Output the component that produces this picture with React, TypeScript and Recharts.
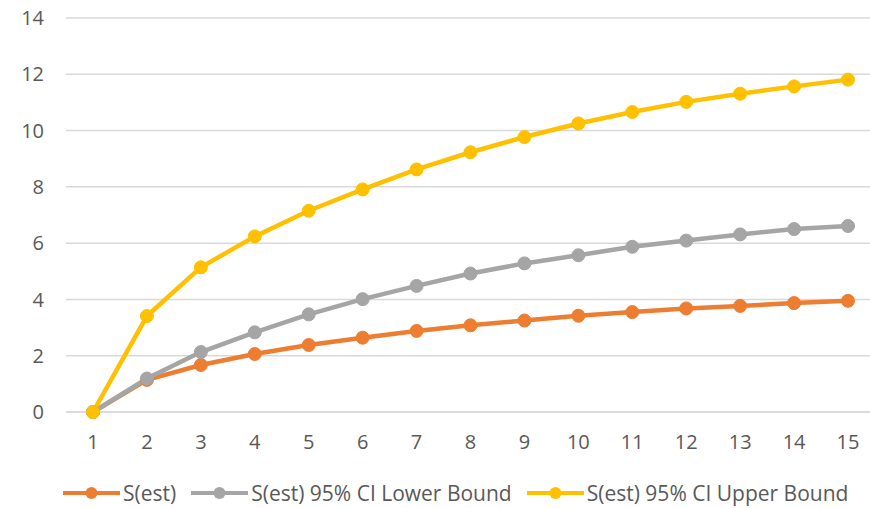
import {
  LineChart,
  Line,
  XAxis,
  YAxis,
  CartesianGrid,
  Legend,
} from "recharts";

const periods = ["1", "2", "3", "4", "5", "6", "7", "8", "9", "10", "11", "12", "13", "14", "15"];
const sEst = [0, 1.14, 1.67, 2.06, 2.38, 2.64, 2.88, 3.08, 3.25, 3.42, 3.55, 3.68, 3.77, 3.87, 3.95];
const lowerBound = [0, 1.19, 2.13, 2.83, 3.47, 4.01, 4.48, 4.92, 5.28, 5.57, 5.87, 6.09, 6.31, 6.5, 6.61];
const upperBound = [0, 3.41, 5.14, 6.24, 7.15, 7.91, 8.62, 9.23, 9.77, 10.25, 10.66, 11.02, 11.31, 11.57, 11.81];
const yTicks = [0, 2, 4, 6, 8, 10, 12, 14];

const SERIES = [
  { key: "est", name: "S(est)", color: "#ED7D31" },
  { key: "lower", name: "S(est) 95% CI Lower Bound", color: "#A5A5A5" },
  { key: "upper", name: "S(est) 95% CI Upper Bound", color: "#FFC000" },
];

const FONT = "'Open Sans', sans-serif";
const TEXT = "#595959";

const data = periods.map((p, i) => ({
  period: p,
  est: sEst[i],
  lower: lowerBound[i],
  upper: upperBound[i],
}));

function LegendRow() {
  return (
    <div
      style={{
        height: 30,
        display: "flex",
        alignItems: "center",
        paddingLeft: 63,
        fontFamily: FONT,
        fontSize: 21,
        color: TEXT,
        whiteSpace: "nowrap",
      }}
    >
      {SERIES.map((s) => (
        <div key={s.key} style={{ display: "flex", alignItems: "center", marginRight: 15 }}>
          <svg width={57} height={16} style={{ marginRight: 3 }}>
            <line x1={0} y1={8} x2={57} y2={8} stroke={s.color} strokeWidth={4} />
            <circle cx={28.5} cy={8} r={6} fill={s.color} />
          </svg>
          <span>{s.name}</span>
        </div>
      ))}
    </div>
  );
}

export default function App() {
  return (
    <div
      style={{
        position: "fixed",
        left: 0,
        top: 0,
        width: 870,
        height: 508,
        overflow: "hidden",
        background: "#fff",
      }}
    >
      <LineChart
        width={876}
        height={508}
        data={data}
        margin={{ top: 18, right: 1, left: 0, bottom: 0 }}
      >
        <CartesianGrid vertical={false} stroke="#D9D9D9" strokeWidth={1.5} />
        <XAxis
          dataKey="period"
          height={66}
          padding={{ left: 27, right: 27 }}
          axisLine={{ stroke: "#D9D9D9", strokeWidth: 1.5 }}
          tickLine={false}
          tickMargin={17}
          tick={{ fill: TEXT, fontSize: 20, fontFamily: FONT }}
          interval={0}
        />
        <YAxis
          width={66}
          domain={[0, 14]}
          ticks={yTicks}
          axisLine={false}
          tickLine={false}
          tickMargin={16}
          tick={{ fill: TEXT, fontSize: 20, fontFamily: FONT }}
        />
        <Legend
          verticalAlign="bottom"
          content={<LegendRow />}
          wrapperStyle={{ height: 30, left: 0, width: 876 }}
        />
        {SERIES.map((s) => (
          <Line
            key={s.key}
            type="linear"
            dataKey={s.key}
            name={s.name}
            stroke={s.color}
            strokeWidth={4.5}
            dot={{ r: 6.5, fill: s.color, stroke: s.color, strokeWidth: 1 }}
            activeDot={false}
            isAnimationActive={false}
          />
        ))}
      </LineChart>
    </div>
  );
}
